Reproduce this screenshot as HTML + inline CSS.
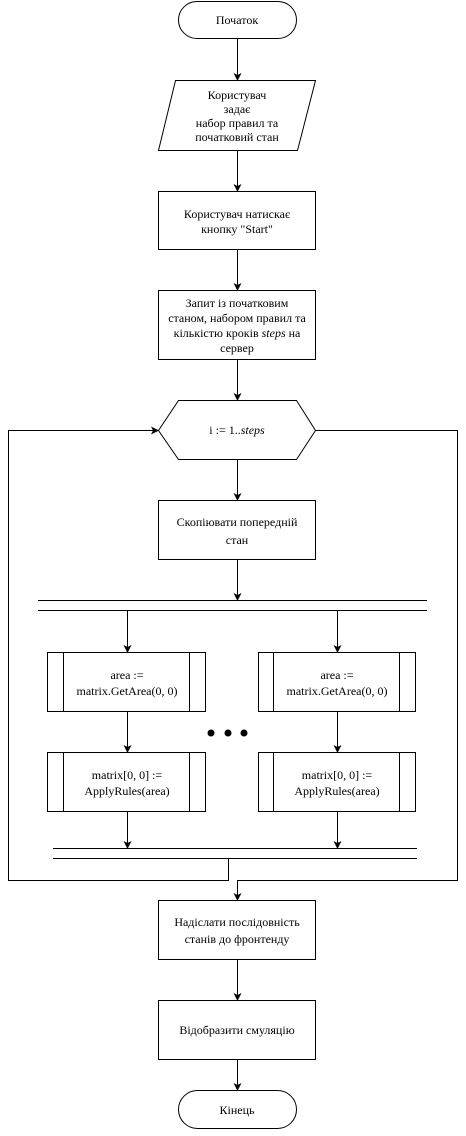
<!DOCTYPE html>
<html><head><meta charset="utf-8"><style>
html,body{margin:0;padding:0;background:#fff}
svg text{font-family:"Liberation Serif",serif;font-size:12px;fill:#000;text-anchor:middle}
</style></head><body>
<svg width="466" height="1131" viewBox="0 0 466 1131" xmlns="http://www.w3.org/2000/svg">
<defs><marker id="a" markerWidth="8" markerHeight="8" refX="7" refY="4" orient="auto" markerUnits="userSpaceOnUse"><path d="M0,0 L8,4 L0,8 L2,4 z" fill="#000"/></marker></defs>
<g fill="none" stroke="#000" stroke-width="1">
<rect x="178.5" y="1.5" width="118" height="37" rx="18.5"/>
<polygon points="175.5,80.5 315.5,80.5 297.5,150.5 158.5,150.5"/>
<rect x="158.5" y="191.5" width="157" height="58"/>
<rect x="158.5" y="290.5" width="157" height="69"/>
<polygon points="178.5,400.5 296.5,400.5 315.5,430.5 296.5,459.5 178.5,459.5 158.5,430.5"/>
<rect x="158.5" y="500.5" width="157" height="59"/>
<line x1="38" y1="600.5" x2="427" y2="600.5"/>
<line x1="38" y1="610.5" x2="427" y2="610.5"/>
<rect x="47.5" y="652.5" width="158" height="59"/><line x1="63.5" y1="652" x2="63.5" y2="712"/><line x1="189.5" y1="652" x2="189.5" y2="712"/>
<rect x="258.5" y="652.5" width="157" height="59"/><line x1="273.5" y1="652" x2="273.5" y2="712"/><line x1="399.5" y1="652" x2="399.5" y2="712"/>
<rect x="47.5" y="752.5" width="158" height="59"/><line x1="63.5" y1="752" x2="63.5" y2="812"/><line x1="189.5" y1="752" x2="189.5" y2="812"/>
<rect x="258.5" y="752.5" width="157" height="59"/><line x1="273.5" y1="752" x2="273.5" y2="812"/><line x1="399.5" y1="752" x2="399.5" y2="812"/>
<line x1="53" y1="848.5" x2="417" y2="848.5"/>
<line x1="53" y1="858.5" x2="417" y2="858.5"/>
<rect x="158.5" y="900.5" width="157" height="59"/>
<rect x="158.5" y="1000.5" width="157" height="59"/>
<rect x="178.5" y="1090.5" width="118" height="38" rx="19"/>
<g marker-end="url(#a)">
<line x1="237.5" y1="39" x2="237.5" y2="80"/>
<line x1="237.5" y1="151" x2="237.5" y2="191"/>
<line x1="237.5" y1="250" x2="237.5" y2="290"/>
<line x1="237.5" y1="360" x2="237.5" y2="400"/>
<line x1="237.5" y1="460" x2="237.5" y2="500"/>
<line x1="237.5" y1="560" x2="237.5" y2="600"/>
<line x1="127.5" y1="611" x2="127.5" y2="652"/>
<line x1="337.5" y1="611" x2="337.5" y2="652"/>
<line x1="127.5" y1="712" x2="127.5" y2="752"/>
<line x1="337.5" y1="712" x2="337.5" y2="752"/>
<line x1="127.5" y1="812" x2="127.5" y2="848"/>
<line x1="337.5" y1="812" x2="337.5" y2="848"/>
<polyline points="228.5,859 228.5,880.5 8.5,880.5 8.5,430.5 158,430.5"/>
<polyline points="315.5,430.5 457.5,430.5 457.5,880.5 237.5,880.5 237.5,900"/>
<line x1="237.5" y1="960" x2="237.5" y2="1000"/>
<line x1="237.5" y1="1060" x2="237.5" y2="1090"/>
</g>
</g>
<circle cx="211" cy="733" r="3.5"/><circle cx="228" cy="733" r="3.5"/><circle cx="244" cy="733" r="3.5"/>
<text x="237" y="24">Початок</text>
<text x="237" y="99">Користувач</text>
<text x="237" y="113">задає</text>
<text x="237" y="127">набор правил та</text>
<text x="237" y="141">початковий стан</text>
<text x="237" y="218">Користувач натискає</text>
<text x="237" y="233">кнопку "Start"</text>
<text x="237" y="307">Запит із початковим</text>
<text x="237" y="322">станом, набором правил та</text>
<text x="237" y="337">кількістю кроків <tspan font-style="italic">steps</tspan> на</text>
<text x="237" y="352">сервер</text>
<text x="237" y="434">i := 1..<tspan font-style="italic">steps</tspan></text>
<text x="237" y="526">Скопіювати попередній</text>
<text x="237" y="544">стан</text>
<text x="127" y="679">area :=</text>
<text x="127" y="695">matrix.GetArea(0, 0)</text>
<text x="337" y="679">area :=</text>
<text x="337" y="695">matrix.GetArea(0, 0)</text>
<text x="127" y="779">matrix[0, 0] :=</text>
<text x="127" y="795">ApplyRules(area)</text>
<text x="337" y="779">matrix[0, 0] :=</text>
<text x="337" y="795">ApplyRules(area)</text>
<text x="237" y="926">Надіслати послідовність</text>
<text x="237" y="943">станів до фронтенду</text>
<text x="237" y="1034">Відобразити смуляцію</text>
<text x="237" y="1114">Кінець</text>
</svg>
</body></html>
